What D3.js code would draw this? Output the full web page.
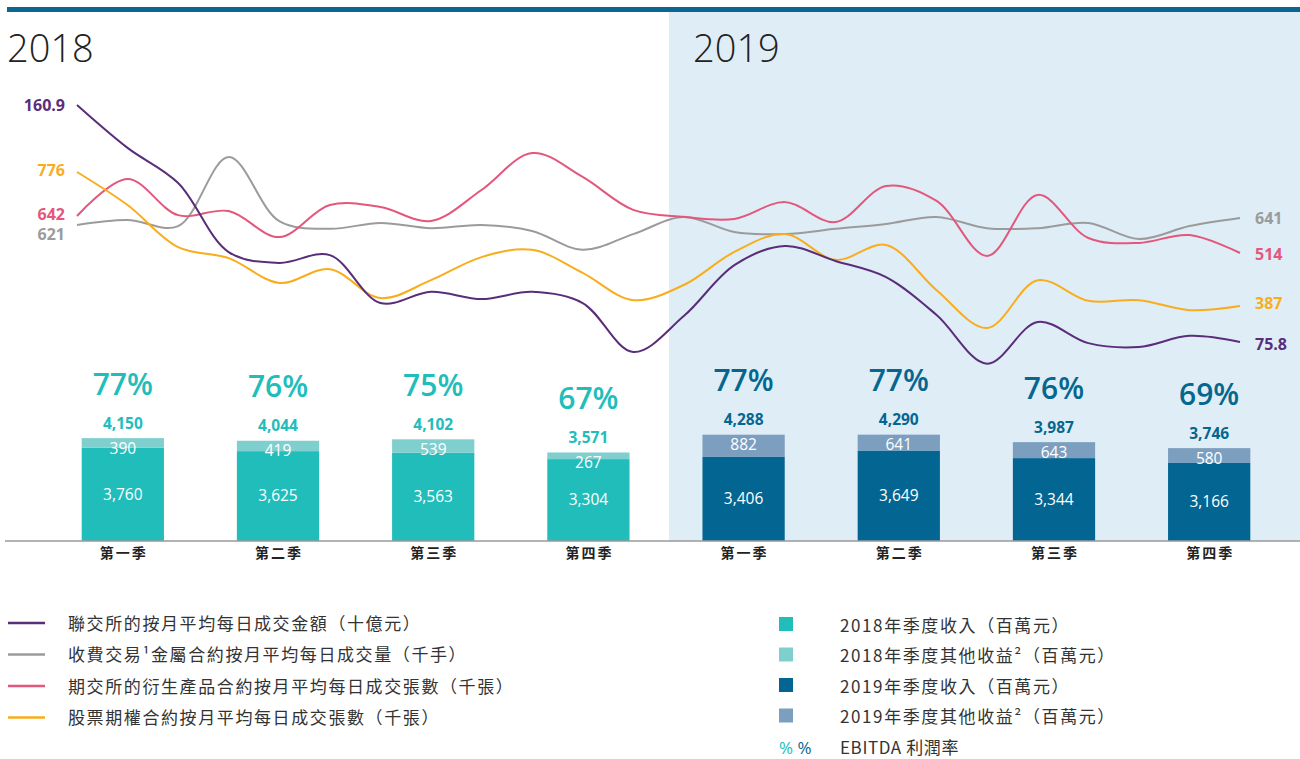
<!DOCTYPE html>
<html>
<head>
<meta charset="utf-8">
<script src="https://cdn.jsdelivr.net/npm/d3@7"></script>
<style>
  body { margin: 0; background: #fff; }
  svg text { font-family: "Open Sans", "Noto Sans", "Noto Sans CJK TC", sans-serif; }
</style>
</head>
<body>
<div class="chart"></div>
<script>
// months of 2018-2019
const months = ['2018-01','2018-02','2018-03','2018-04','2018-05','2018-06','2018-07','2018-08','2018-09','2018-10','2018-11','2018-12',
                '2019-01','2019-02','2019-03','2019-04','2019-05','2019-06','2019-07','2019-08','2019-09','2019-10','2019-11','2019-12'];

// 聯交所 turnover (HK$ bn)
const turnover = [160.9,145.5,132.9,108.1,104.2,107.0,89.8,93.8,91.2,93.8,89.8,72.2,
                  85.1,103.4,110.3,104.9,99.1,85.5,68.0,83.0,75.4,74.0,78.0,75.8];
// 金屬合約 volume (k lots)
const metals = [621,635,618,815,632,610,627,612,621,604,550,595,
                644,601,595,610,624,644,612,612,627,581,618,641];
// 期交所 derivatives (k contracts)
const derivs = [642,770,645,659,569,680,673,625,732,860,777,663,
                639,632,690,621,746,694,504,715,566,549,576,514];
// stock options (k contracts)
const options = [776,680,558,526,454,494,410,462,529,550,483,404,
                 448,544,596,521,564,433,323,462,402,404,375,387];

const quarters = ['第一季','第二季','第三季','第四季'];
const periods = ['2018Q1','2018Q2','2018Q3','2018Q4','2019Q1','2019Q2','2019Q3','2019Q4'];
const revenue = [3760,3625,3563,3304,3406,3649,3344,3166];
const otherIncome = [390,419,539,267,882,641,643,580];
const totals = [4150,4044,4102,3571,4288,4290,3987,3746];
const ebitda = ['77%','76%','75%','67%','77%','77%','76%','69%'];

const width = 1300, height = 759;
const baseY = 541;
const cjk = '"Noto Sans CJK TC", sans-serif';

const svg = d3.select('.chart')
    .append('svg')
    .attr('width', width)
    .attr('height', height);

// 2019 shaded panel + top rule
svg.append('rect')
    .attr('x', 669).attr('y', 12)
    .attr('width', width - 669).attr('height', baseY - 12)
    .attr('fill', '#dfedf7');
svg.append('rect')
    .attr('x', 7).attr('y', 7)
    .attr('width', width - 7).attr('height', 5)
    .attr('fill', '#0b6792');

svg.append('text').text('2018')
    .attr('x', 7).attr('y', 62)
    .attr('font-size', 38).attr('fill', '#222').attr('font-weight', 300);
svg.append('text').text('2019')
    .attr('x', 693).attr('y', 62)
    .attr('font-size', 38).attr('fill', '#222').attr('font-weight', 300);

// bars
const xBand = d3.scaleBand()
    .domain(periods)
    .range([46, 1286])
    .paddingInner(0.47)
    .paddingOuter(0.23);
const yBar = d3.scaleLinear()
    .domain([0, 4300])
    .range([baseY, 434.4]);

const revColor = i => i < 4 ? '#21bdbb' : '#036591';
const othColor = i => i < 4 ? '#80cfcf' : '#7c9ebf';
const lblColor = i => i < 4 ? '#21bdbb' : '#05668f';

const barG = svg.append('g');
barG.selectAll('rect.rev')
    .data(periods)
    .enter()
    .append('rect')
    .attr('class', 'rev')
    .attr('x', d => xBand(d))
    .attr('width', xBand.bandwidth())
    .attr('y', (d, i) => yBar(revenue[i]))
    .attr('height', (d, i) => baseY - yBar(revenue[i]))
    .attr('fill', (d, i) => revColor(i));
barG.selectAll('rect.oth')
    .data(periods)
    .enter()
    .append('rect')
    .attr('class', 'oth')
    .attr('x', d => xBand(d))
    .attr('width', xBand.bandwidth())
    .attr('y', (d, i) => yBar(totals[i]))
    .attr('height', (d, i) => yBar(revenue[i]) - yBar(totals[i]))
    .attr('fill', (d, i) => othColor(i));

const cx = d => xBand(d) + xBand.bandwidth() / 2;

barG.selectAll('text.rev')
    .data(periods)
    .enter()
    .append('text')
    .text((d, i) => d3.format(',')(revenue[i]))
    .attr('x', cx)
    .attr('y', (d, i) => (yBar(revenue[i]) + baseY) / 2)
    .attr('dy', '0.35em')
    .attr('text-anchor', 'middle')
    .attr('font-size', 15.5)
    .attr('fill', '#fff');
barG.selectAll('text.oth')
    .data(periods)
    .enter()
    .append('text')
    .text((d, i) => otherIncome[i])
    .attr('x', cx)
    .attr('y', (d, i) => yBar(totals[i]) + 10)
    .attr('dy', '0.35em')
    .attr('text-anchor', 'middle')
    .attr('font-size', 15.5)
    .attr('fill', '#fff');
barG.selectAll('text.tot')
    .data(periods)
    .enter()
    .append('text')
    .text((d, i) => d3.format(',')(totals[i]))
    .attr('x', cx)
    .attr('y', (d, i) => yBar(totals[i]) - 15)
    .attr('dy', '0.35em')
    .attr('text-anchor', 'middle')
    .attr('font-size', 15.5)
    .attr('font-weight', 700)
    .attr('fill', (d, i) => lblColor(i));
barG.selectAll('text.pct')
    .data(periods)
    .enter()
    .append('text')
    .text((d, i) => ebitda[i])
    .attr('x', cx)
    .attr('y', (d, i) => yBar(totals[i]) - 54)
    .attr('dy', '0.35em')
    .attr('text-anchor', 'middle')
    .attr('font-size', 30)
    .attr('font-weight', 600)
    .attr('fill', (d, i) => lblColor(i));

// axis
const xAxis = d3.axisBottom(xBand)
    .tickSize(0)
    .tickPadding(7)
    .tickFormat((d, i) => quarters[i % 4]);
const axisG = svg.append('g')
    .attr('transform', `translate(0, ${baseY})`)
    .call(xAxis);
axisG.select('.domain').remove();
axisG.selectAll('text')
    .attr('font-size', 14)
    .attr('font-weight', 700)
    .attr('fill', '#222')
    .attr('letter-spacing', 2)
    .attr('dx', 1)
    .style('font-family', cjk);
svg.append('line')
    .attr('x1', 5).attr('x2', width)
    .attr('y1', baseY).attr('y2', baseY)
    .attr('stroke', '#9a9a9a')
    .attr('stroke-width', 1.5);

// lines
const xLine = d3.scalePoint()
    .domain(months)
    .range([77, 1240]);

const series = [
    {name: 'metals', values: metals, color: '#9b9b9b',
     y: d3.scaleLinear().domain([621, 641]).range([225, 218]), left: 234, right: 218, fmt: d => d},
    {name: 'derivs', values: derivs, color: '#e3577c',
     y: d3.scaleLinear().domain([514, 642]).range([253, 216]), left: 214, right: 254, fmt: d => d},
    {name: 'options', values: options, color: '#f9ad1c',
     y: d3.scaleLinear().domain([387, 776]).range([306, 172]), left: 170, right: 303, fmt: d => d},
    {name: 'turnover', values: turnover, color: '#5a2d7a',
     y: d3.scaleLinear().domain([75.8, 160.9]).range([342, 105]), left: 105, right: 344, fmt: d => d.toFixed(1)}
];

series.forEach(s => {
    const line = d3.line()
        .x((d, i) => xLine(months[i]))
        .y(d => s.y(d))
        .curve(d3.curveCatmullRom.alpha(0.5));
    svg.append('path')
        .datum(s.values)
        .attr('d', line)
        .attr('fill', 'none')
        .attr('stroke', s.color)
        .attr('stroke-width', 2);
    svg.append('text')
        .text(s.fmt(s.values[0]))
        .attr('x', 65)
        .attr('y', s.left)
        .attr('dy', '0.35em')
        .attr('text-anchor', 'end')
        .attr('font-size', 16)
        .attr('font-weight', 700)
        .attr('fill', s.color);
    svg.append('text')
        .text(s.fmt(s.values[s.values.length - 1]))
        .attr('x', 1255)
        .attr('y', s.right)
        .attr('dy', '0.35em')
        .attr('font-size', 16)
        .attr('font-weight', 700)
        .attr('fill', s.color);
});

// legend - lines
const lineLegend = [
    {label: '聯交所的按月平均每日成交金額（十億元）', color: '#5a2d7a'},
    {label: '收費交易¹金屬合約按月平均每日成交量（千手）', color: '#9b9b9b'},
    {label: '期交所的衍生產品合約按月平均每日成交張數（千張）', color: '#e3577c'},
    {label: '股票期權合約按月平均每日成交張數（千張）', color: '#f9ad1c'}
];
const lg1 = svg.append('g');
lg1.selectAll('line')
    .data(lineLegend)
    .enter()
    .append('line')
    .attr('x1', 8).attr('x2', 45)
    .attr('y1', (d, i) => 623 + i * 31.5)
    .attr('y2', (d, i) => 623 + i * 31.5)
    .attr('stroke', d => d.color)
    .attr('stroke-width', 2.5);
lg1.selectAll('text')
    .data(lineLegend)
    .enter()
    .append('text')
    .text(d => d.label)
    .attr('x', 68)
    .attr('y', (d, i) => 624 + i * 31.5)
    .attr('dy', '0.35em')
    .attr('font-size', 17)
    .attr('letter-spacing', 1.6)
    .attr('fill', '#333')
    .style('font-family', cjk);

// legend - bars
const barLegend = [
    {label: '2018年季度收入（百萬元）', color: '#21bdbb'},
    {label: '2018年季度其他收益²（百萬元）', color: '#80cfcf'},
    {label: '2019年季度收入（百萬元）', color: '#036591'},
    {label: '2019年季度其他收益²（百萬元）', color: '#7c9ebf'}
];
const lg2 = svg.append('g');
lg2.selectAll('rect')
    .data(barLegend)
    .enter()
    .append('rect')
    .attr('x', 779)
    .attr('y', (d, i) => 617 + i * 30.5)
    .attr('width', 14).attr('height', 14)
    .attr('fill', d => d.color);
lg2.selectAll('text')
    .data(barLegend)
    .enter()
    .append('text')
    .text(d => d.label)
    .attr('x', 840)
    .attr('y', (d, i) => 626 + i * 30.5)
    .attr('dy', '0.35em')
    .attr('font-size', 17)
    .attr('letter-spacing', 1.6)
    .attr('fill', '#333')
    .style('font-family', cjk);
const pctRow = lg2.append('text')
    .attr('x', 779).attr('y', 748)
    .attr('dy', '0.35em')
    .attr('font-size', 17);
pctRow.append('tspan').text('%').attr('fill', '#21bdbb');
pctRow.append('tspan').text(' %').attr('fill', '#05668f');
lg2.append('text')
    .text('EBITDA 利潤率')
    .attr('x', 840).attr('y', 748)
    .attr('dy', '0.35em')
    .attr('font-size', 17)
    .attr('letter-spacing', 0.6)
    .attr('fill', '#333')
    .style('font-family', cjk);
</script>
</body>
</html>
